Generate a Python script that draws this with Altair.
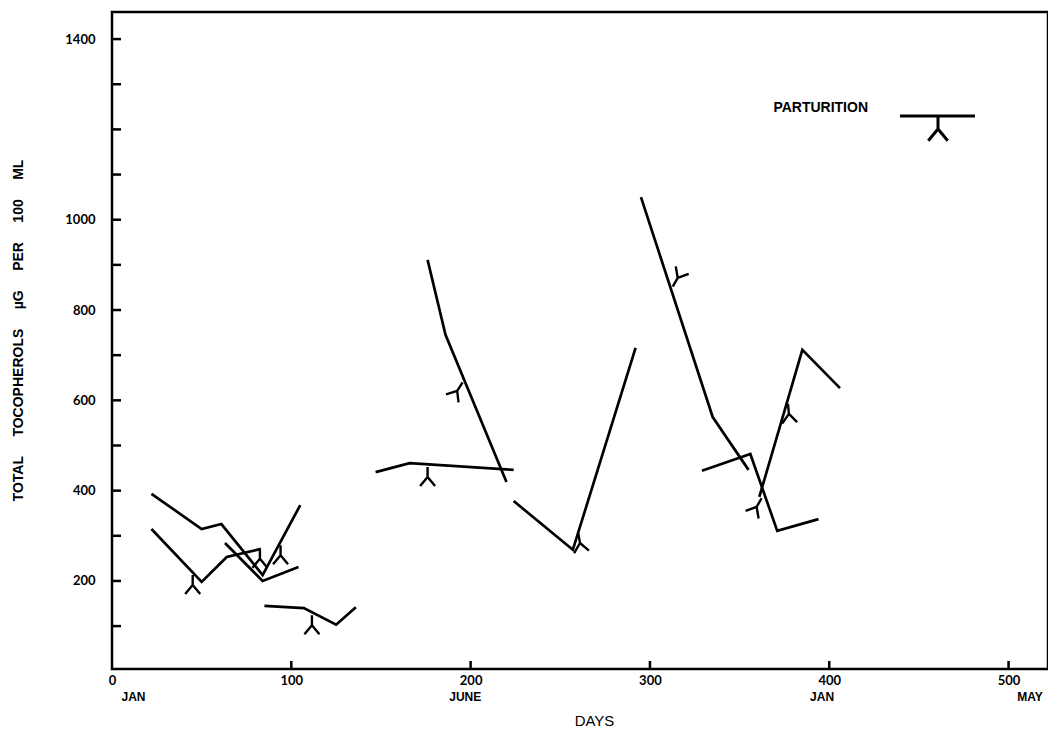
import altair as alt
import pandas as pd

# ---- data (days, total tocopherols ug/100 ml) ----
days_a = [22, 50, 61, 84, 105]
toco_a = [393, 315, 326, 213, 368]
days_b = [22, 50, 64, 83]
toco_b = [315, 198, 253, 271]
days_c = [63, 84, 104]
toco_c = [284, 200, 231]
days_d = [85, 107, 125, 136]
toco_d = [145, 140, 103, 142]
days_e = [147, 166, 224]
toco_e = [441, 461, 446]
days_f = [176, 186, 220]
toco_f = [911, 745, 419]
days_g = [224, 257, 292]
toco_g = [377, 269, 716]
days_h = [295, 335, 355]
toco_h = [1050, 563, 446]
days_i = [329, 356, 371, 394]
toco_i = [444, 481, 311, 337]
days_j = [361, 385, 406]
toco_j = [386, 712, 627]

# parturition markers
part_days = [45, 82.5, 94, 111.5, 176, 192.5, 261, 315.5, 377.5, 359.5]
part_toco = [191, 249, 257, 102, 430, 621, 284, 871, 570, 364]
part_angle = [0, 0, 0, 0, 0, 33, 350, 210, 355, 30]

x_label_values = [0, 100, 200, 300, 400, 500]
x_tick_values = [100, 200, 300, 400, 500]
y_label_values = [200, 400, 600, 800, 1000, 1400]
y_tick_values = [100, 200, 300, 400, 500, 600, 700, 800, 900, 1000, 1100, 1200, 1300, 1400]
month_names = ["JAN", "JUNE", "JAN", "MAY"]
month_days = [12, 197, 396, 512]

series = {
    "A": (days_a, toco_a), "B": (days_b, toco_b), "C": (days_c, toco_c),
    "D": (days_d, toco_d), "E": (days_e, toco_e), "F": (days_f, toco_f),
    "G": (days_g, toco_g), "H": (days_h, toco_h), "I": (days_i, toco_i),
    "J": (days_j, toco_j),
}
rows = []
for name, (dd, tt) in series.items():
    for k, (d, t) in enumerate(zip(dd, tt)):
        rows.append({"series": name, "idx": k, "day": d, "toco": t})
lines_df = pd.DataFrame(rows)
marks_df = pd.DataFrame({"day": part_days, "toco": part_toco, "angle": part_angle})
yt_df = pd.DataFrame({"toco": y_tick_values})
xt_df = pd.DataFrame({"day": x_tick_values})
month_df = pd.DataFrame({"day": month_days, "name": month_names})
one_df = pd.DataFrame({"label": ["PARTURITION"]})

W, H = 936, 657
xs = alt.Scale(domain=[0, 522], nice=False, zero=False)
ys = alt.Scale(domain=[5, 1460], nice=False, zero=False)
NB = "\u00a0"
gap = NB * 5
ytitle = gap.join(["TOTAL", "TOCOPHEROLS", "\u00b5G", "PER", "100", "ML"])

MARKER = "M0,-1L0,0M0,0L-0.75,0.9M0,0L0.75,0.9"

x_axis = alt.Axis(values=x_label_values, format="d", ticks=False, domain=False, grid=False,
                  labelFont="Lato", labelFontSize=13, labelFontWeight="bold",
                  labelColor="black", labelPadding=5, labelFlush=False,
                  title="DAYS", titleFont="Liberation Sans", titleFontSize=15,
                  titleFontWeight="normal", titleColor="black",
                  titleX=482, titleY=51, titleBaseline="middle", titleAlign="center")
y_axis = alt.Axis(values=y_label_values, format="d", ticks=False, domain=False, grid=False,
                  labelFont="Lato", labelFontSize=13, labelFontWeight="bold",
                  labelColor="black", labelPadding=17,
                  title=ytitle, titleFont="Liberation Sans", titleFontSize=14,
                  titleFontWeight="bold", titleColor="black", titleAngle=270,
                  titleX=-94, titleY=318, titleAlign="center", titleBaseline="middle")

X = alt.X("day:Q", scale=xs, axis=x_axis)
Y = alt.Y("toco:Q", scale=ys, axis=y_axis)

lines = alt.Chart(lines_df).mark_line(color="black", strokeWidth=2.7).encode(
    x=X, y=Y, detail="series:N", order="idx:O",
)

markers = alt.Chart(marks_df).mark_point(
    shape=MARKER, filled=False, color="black", strokeWidth=2.4, size=400, opacity=1
).encode(
    x=X, y=Y, angle=alt.Angle("angle:Q", scale=None),
)

yticks = alt.Chart(yt_df).mark_rule(color="black", strokeWidth=2.5).encode(
    y=Y, x=alt.value(1), x2=alt.value(9),
)
xticks = alt.Chart(xt_df).mark_rule(color="black", strokeWidth=2.5).encode(
    x=X, y=alt.value(H), y2=alt.value(H - 8),
)
months = alt.Chart(month_df).mark_text(
    font="Liberation Sans", fontSize=12, fontWeight="bold", color="black", baseline="middle"
).encode(
    x=X, y=alt.value(H + 28), text="name:N",
)

leg_text = alt.Chart(one_df).mark_text(
    font="Liberation Sans", fontSize=14, fontWeight="bold", color="black",
    align="right", baseline="middle"
).encode(x=alt.value(756), y=alt.value(96), text="label:N")
leg_rule = alt.Chart(one_df).mark_rule(color="black", strokeWidth=3).encode(
    x=alt.value(788), x2=alt.value(863), y=alt.value(104)
)
leg_mark = alt.Chart(one_df).mark_point(
    shape=MARKER, filled=False, color="black", strokeWidth=3, size=676, opacity=1
).encode(x=alt.value(826), y=alt.value(117))

chart = alt.layer(
    lines, markers, yticks, xticks, months, leg_text, leg_rule, leg_mark
).properties(
    width=W, height=H,
    autosize=alt.AutoSizeParams(type="none"),
    padding={"left": 104, "top": 4, "right": 0, "bottom": 60},
    background="white",
).configure_view(stroke="black", strokeWidth=2.5)

chart.save("out.html", embed_options={"renderer": "svg", "actions": False})
